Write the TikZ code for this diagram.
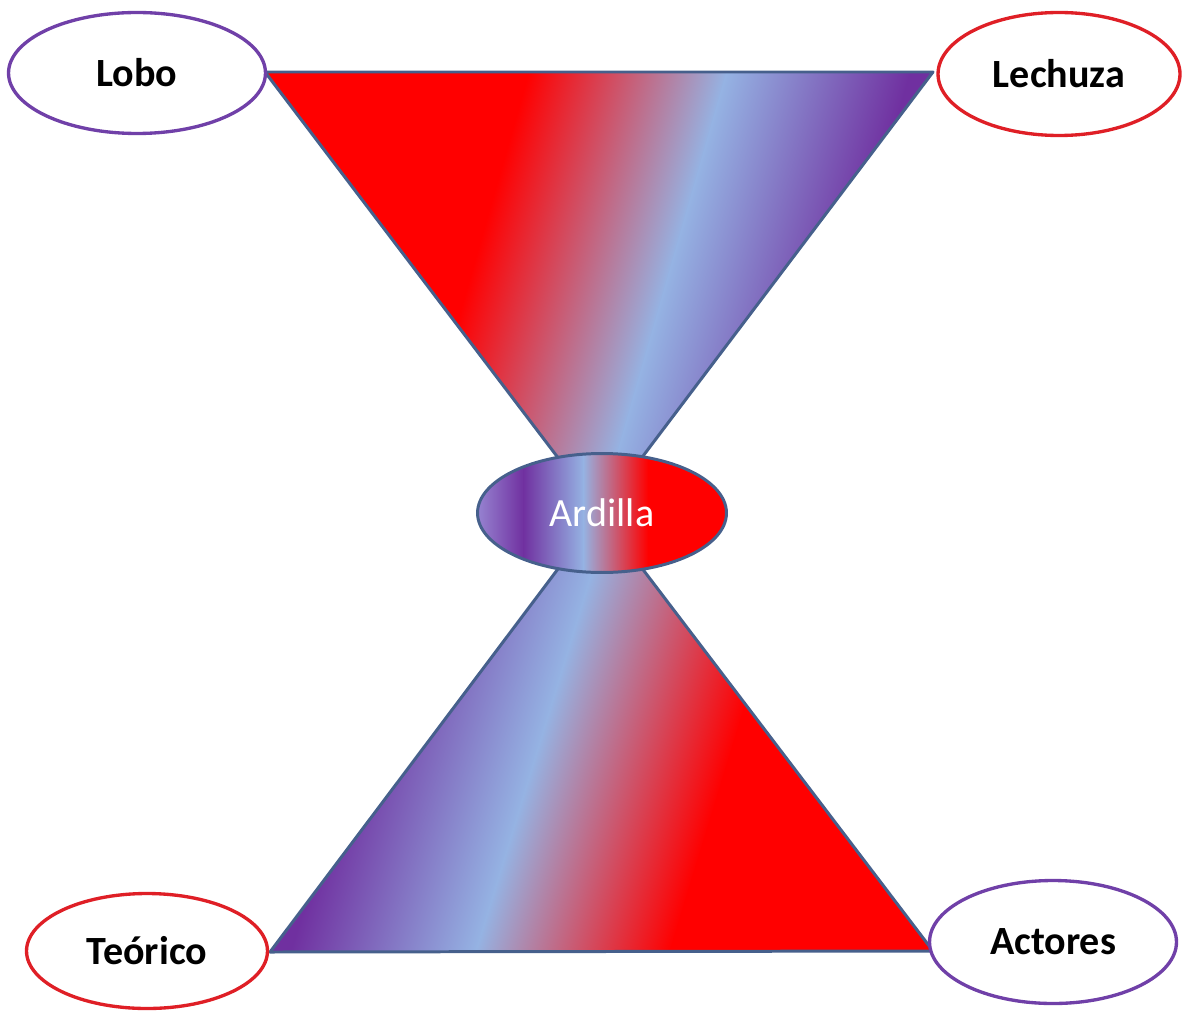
\documentclass[tikz,border=0pt]{standalone}
\usepackage{fontspec}
\setmainfont{Carlito}
\usetikzlibrary{shapes.geometric}
\definecolor{hgred}{HTML}{FF0000}
\definecolor{hgblue}{HTML}{95B3E3}
\definecolor{hgpurple}{HTML}{7030A0}
\definecolor{hglilac}{HTML}{9C90D8}
\definecolor{hgedge}{HTML}{46608C}
\definecolor{rimred}{HTML}{DF1F26}
\definecolor{rimpurple}{HTML}{7040A8}

\begin{document}
\begin{tikzpicture}[
    x=0.02cm, y=-0.02cm,
    corner/.style={ellipse, draw, line width=1.9pt, fill=white, inner sep=0pt, font=\fontsize{22.8}{27}\selectfont\bfseries},
    redrim/.style={corner, draw=rimred},
    purplerim/.style={corner, draw=rimpurple},
    cone/.style={draw=hgedge, line width=1.7pt, line join=round}
  ]
  \useasboundingbox (0,0) rectangle (1182,1010);

  \coordinate (neck) at (600,513);
  \coordinate (topL) at (265,72);
  \coordinate (topR) at (933,72);
  \coordinate (botL) at (270,952);
  \coordinate (botR) at (933,951);

  % upper cone: red -> light blue -> purple
  \begin{scope}
    \clip (topL) -- (topR) -- (neck) -- cycle;
    \begin{scope}[transform canvas={rotate around={-16:(672,261)}}]
      \fill[hgred] (100,-300) rectangle (1200,900);
      \fill[hgpurple] (848,-300) rectangle (1200,900);
      \shade[left color=hgred, right color=hgblue] (482,-300) rectangle (673,900);
      \shade[left color=hgblue, right color=hgpurple] (672,-300) rectangle (849,900);
    \end{scope}
  \end{scope}
  \draw[cone] (topL) -- (topR) -- (neck) -- cycle;

  % lower cone: purple -> light blue -> red
  \begin{scope}
    \clip (botL) -- (botR) -- (neck) -- cycle;
    \begin{scope}[transform canvas={rotate around={-17:(532,766)}}]
      \fill[hgred] (0,300) rectangle (1200,1300);
      \fill[hgpurple] (0,300) rectangle (356,1300);
      \shade[left color=hgpurple, right color=hgblue] (355,300) rectangle (533,1300);
      \shade[left color=hgblue, right color=hgred] (532,300) rectangle (718,1300);
    \end{scope}
  \end{scope}
  \draw[cone] (botL) -- (botR) -- (neck) -- cycle;

  % middle ellipse
  \begin{scope}
    \clip (602,513) ellipse [x radius=124.5, y radius=59.5];
    \fill[hgred] (470,440) rectangle (740,590);
    \shade[left color=hglilac, right color=hgpurple] (470,440) rectangle (524,590);
    \shade[left color=hgpurple, right color=hgblue] (523,440) rectangle (584,590);
    \shade[left color=hgblue, right color=hgred] (583,440) rectangle (648,590);
  \end{scope}
  \node[ellipse, draw=hgedge, line width=1.7pt, inner sep=0pt, minimum width=4.98cm, minimum height=2.38cm,
        text=white, font=\fontsize{22.8}{27}\selectfont] (ardilla) at (602,513) {Ardilla};

  \node[purplerim, minimum width=5.14cm, minimum height=2.42cm] (lobo) at (137,73) {Lobo};
  \node[redrim, minimum width=4.84cm, minimum height=2.46cm] (lechuza) at (1059,74) {Lechuza};
  \node[redrim, minimum width=4.82cm, minimum height=2.3cm] (teorico) at (147,951) {Teórico};
  \node[purplerim, minimum width=4.94cm, minimum height=2.46cm] (actores) at (1053,942) {Actores};
\end{tikzpicture}
\end{document}
